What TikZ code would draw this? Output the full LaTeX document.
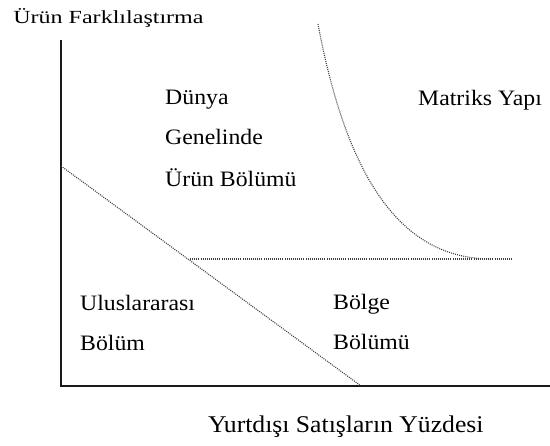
\documentclass[tikz,border=0pt]{standalone}
\usepackage{fontspec}
\setmainfont{Liberation Serif}
\begin{document}
\begin{tikzpicture}[x=1pt,y=-1pt,
  axis/.style={line width=1.4pt,black!90},
  dotline/.style={line width=1.1pt,dash pattern=on 1pt off 1.1pt,black!75},
  lbl/.style={font=\fontsize{22}{26}\selectfont,anchor=base west,inner sep=0pt,xscale=1.08,transform shape},
  ttl/.style={font=\fontsize{18.5}{22}\selectfont,anchor=base west,inner sep=0pt,xscale=1.3,transform shape},
  xlbl/.style={font=\fontsize{24}{28}\selectfont,anchor=base west,inner sep=0pt,xscale=1.07,transform shape}]
\useasboundingbox (0,0) rectangle (550,446);
\fill[white] (0,0) rectangle (550,446);
% axes
\coordinate (ytop) at (61,40);
\coordinate (orig) at (61,386);
\coordinate (xend) at (550,386);
\draw[axis] (ytop) -- (orig) -- (xend);
% diagonal
\coordinate (d1) at (61,166);
\coordinate (d2) at (361,386);
\draw[dotline] (d1) -- (d2);
% horizontal
\coordinate (h1) at (190,259);
\coordinate (h2) at (512,259);
\draw[dotline] (h1) -- (h2);
% curve
\coordinate (c1) at (318,24);
\coordinate (c2) at (490,259);
\draw[dotline] (c1) .. controls (350,195) and (410,258) .. (c2);
% labels
\node[ttl] (t) at (13,24) {Ürün Farklılaştırma};
\node[lbl] (a1) at (165,105) {Dünya};
\node[lbl] (a2) at (165,145) {Genelinde};
\node[lbl] (a3) at (165,187) {Ürün Bölümü};
\node[lbl] (m) at (418,106) {Matriks Yapı};
\node[lbl] (u1) at (80,311) {Uluslararası};
\node[lbl] (u2) at (80,351) {Bölüm};
\node[lbl] (b1) at (333,310) {Bölge};
\node[lbl] (b2) at (333,350) {Bölümü};
\node[xlbl] (x) at (208,433) {Yurtdışı Satışların Yüzdesi};
\end{tikzpicture}
\end{document}
